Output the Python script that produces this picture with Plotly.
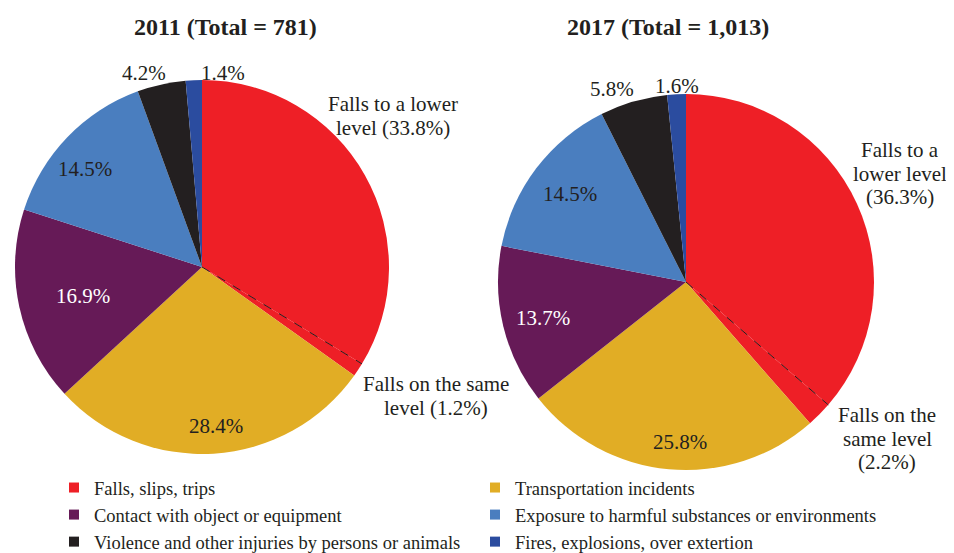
import math
import plotly.graph_objects as go

# ---------------- data ----------------
categories = [
    "Falls, slips, trips",
    "Transportation incidents",
    "Contact with object or equipment",
    "Exposure to harmful substances or environments",
    "Violence and other injuries by persons or animals",
    "Fires, explosions, over extertion",
]
category_colors = ["#EE1F26", "#E1AD25", "#661A57", "#4A7EBF", "#231F20", "#2B4C9F"]

slice_labels = [
    "Falls to a lower level",
    "Falls on the same level",
    "Transportation incidents",
    "Contact with object or equipment",
    "Exposure to harmful substances or environments",
    "Violence and other injuries by persons or animals",
    "Fires, explosions, over extertion",
]
slice_colors = ["#EE1F26", "#EE1F26", "#E1AD25", "#661A57", "#4A7EBF", "#231F20", "#2B4C9F"]

values_2011 = [33.8, 1.2, 28.4, 16.9, 14.5, 4.2, 1.4]
values_2017 = [36.3, 2.2, 25.8, 13.7, 14.5, 5.8, 1.6]

title_2011 = "2011 (Total = 781)"
title_2017 = "2017 (Total = 1,013)"

# label lines for each slice ({p} = the slice's percentage)
label_lines_2011 = [["Falls to a lower", "level ({p})"], ["Falls on the same", "level ({p})"],
                    ["{p}"], ["{p}"], ["{p}"], ["{p}"], ["{p}"]]
label_lines_2017 = [["Falls to a", "lower level", "({p})"], ["Falls on the", "same level", "({p})"],
                    ["{p}"], ["{p}"], ["{p}"], ["{p}"], ["{p}"]]

# ---------------- layout constants ----------------
OFF = 8              # page body margin of the html page
W, H = 954, 580      # figure size (extra room below so the legend never pushes margins)
FONT = "Liberation Serif, Times New Roman, serif"
DARK = "#231F20"
label_colors = [DARK, DARK, DARK, "white", DARK, DARK, DARK]

# label anchor (center x, first line y) in window pixels from top-left
label_pos_2011 = [(393, 104), (436, 384), (216, 426), (83, 296), (85, 169), (144, 73), (223, 73)]
label_pos_2017 = [(900, 150), (887, 415), (680, 442), (543, 318), (570, 194), (612, 89), (677, 86)]
LINE_STEP = 23.5


def px(x):
    return (x - OFF) / W


def py(y):
    return 1 - (y - OFF) / H


def domain(cx, cy, r):
    return dict(x=[px(cx - r), px(cx + r)], y=[py(cy + r), py(cy - r)])


dom_2011 = domain(202, 267, 187)
dom_2017 = domain(686, 282, 188)

fig = go.Figure()

for vals, dom in [(values_2011, dom_2011), (values_2017, dom_2017)]:
    fig.add_trace(go.Pie(
        labels=slice_labels,
        values=vals,
        textinfo="none",
        marker=dict(colors=slice_colors, line=dict(width=0)),
        sort=False,
        direction="clockwise",
        rotation=0,
        domain=dom,
        showlegend=False,
        hoverinfo="label+value",
    ))

# legend entries (one per category)
for name, col in zip(categories, category_colors):
    fig.add_trace(go.Scatter(
        x=[None], y=[None], mode="markers", name=name,
        marker=dict(symbol="square", size=10, color=col),
        showlegend=True, hoverinfo="skip",
    ))


# dashed separator between the two "falls" slices, derived from the values
def separator(vals, dom):
    x0, x1 = dom["x"]
    y0, y1 = dom["y"]
    cx = (x0 + x1) / 2 * W
    cy = (y0 + y1) / 2 * H
    r = min((x1 - x0) * W, (y1 - y0) * H) / 2
    theta = math.radians(90 - 360 * vals[0] / sum(vals))
    ex = cx + r * math.cos(theta)
    ey = cy + r * math.sin(theta)
    return dict(type="line", xref="paper", yref="paper",
                x0=cx / W, y0=cy / H, x1=ex / W, y1=ey / H,
                line=dict(color=DARK, width=1, dash="dash"))


fig.add_shape(**separator(values_2011, dom_2011))
fig.add_shape(**separator(values_2017, dom_2017))


def add_labels(vals, lines_spec, positions):
    for v, lines, (lx, ly), col in zip(vals, lines_spec, positions, label_colors):
        p = f"{v:.1f}%"
        for k, line in enumerate(lines):
            fig.add_annotation(
                text=line.format(p=p), x=px(lx), y=py(ly + k * LINE_STEP),
                xref="paper", yref="paper", xanchor="center", yanchor="middle",
                showarrow=False, font=dict(family=FONT, size=21, color=col))


add_labels(values_2011, label_lines_2011, label_pos_2011)
add_labels(values_2017, label_lines_2017, label_pos_2017)

# titles
for t, cx in [(title_2011, 225), (title_2017, 668)]:
    fig.add_annotation(text=f"<b>{t}</b>", x=px(cx), y=py(27),
                       xref="paper", yref="paper", xanchor="center", yanchor="middle",
                       showarrow=False, font=dict(family=FONT, size=24, color=DARK))

fig.update_layout(
    width=W, height=H,
    margin=dict(l=0, r=0, t=0, b=0),
    paper_bgcolor="white", plot_bgcolor="white",
    xaxis=dict(visible=False), yaxis=dict(visible=False),
    legend=dict(
        orientation="h", x=px(54), y=py(469), xanchor="left", yanchor="top",
        entrywidth=376, entrywidthmode="pixels", itemwidth=30,
        font=dict(family=FONT, size=18.5, color=DARK),
        bgcolor="rgba(0,0,0,0)", traceorder="normal",
    ),
    font=dict(family=FONT, color=DARK),
)

fig.write_html("out.html")
